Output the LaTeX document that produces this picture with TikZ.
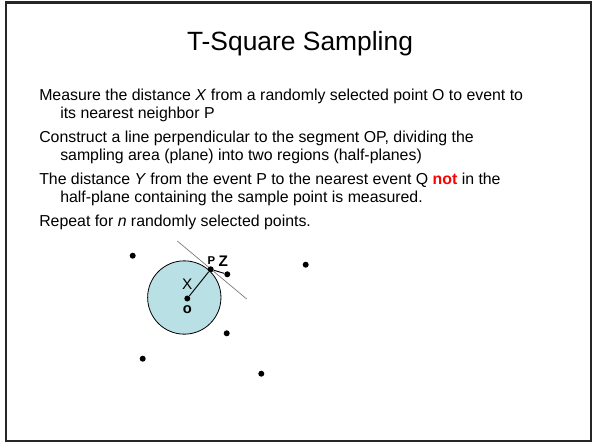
\documentclass[tikz,border=0pt]{standalone}
\usepackage{fontspec}
\setmainfont{Liberation Sans}
\definecolor{circfill}{RGB}{185,224,228}
\definecolor{tanline}{RGB}{120,120,120}
\begin{document}
\begin{tikzpicture}[x=0.75pt,y=-0.75pt,
  body/.style={anchor=base west,inner sep=0pt,font=\fontsize{11.9pt}{14pt}\selectfont},
  ev/.style={circle,fill=black,inner sep=0pt,minimum size=4.5pt},
  lab/.style={inner sep=0pt,font=\fontsize{11.5pt}{13pt}\selectfont}]
\useasboundingbox (0,0) rectangle (594,444);
\fill[white] (0,0) rectangle (594,444);
\draw[line width=1.6pt,black!85] (6,2.5) rectangle (591,441);
\node[inner sep=0pt,anchor=base,font=\fontsize{19.8pt}{22pt}\selectfont] (title) at (300,50) {T-Square Sampling};
\node[body] (l1) at (39,100.5) {Measure the distance \textit{X} from a randomly selected point O to event to};
\node[body] (l2) at (60,118.5) {its nearest neighbor P};
\node[body] (l3) at (39,142.5) {Construct a line perpendicular to the segment OP, dividing the};
\node[body] (l4) at (60,160.5) {sampling area (plane) into two regions (half-planes)};
\node[body] (l5) at (39,184) {The distance \textit{Y} from the event P to the nearest event Q \textcolor{red}{\textbf{not}} in the};
\node[body] (l6) at (60,202) {half-plane containing the sample point is measured.};
\node[body] (l7) at (39,226.5) {Repeat for \textit{n} randomly selected points.};
% circle
\node[circle,draw=black,fill=circfill,line width=0.6pt,minimum size=55pt,inner sep=0pt] (circ) at (184.3,297.5) {};
\coordinate (t1) at (177.3,241);
\coordinate (t2) at (246.7,299);
\draw[tanline,line width=0.5pt] (t1) -- (t2);
\node[ev] (O) at (187.3,298.5) {};
\node[ev] (P) at (210.7,269.3) {};
\node[ev] (Z) at (227.3,274.3) {};
\draw[line width=0.7pt] (O) -- (P);
\draw[line width=0.7pt] (P) -- (Z);
\node[lab] (Xl) at (187.3,284.3) {X};
\node[lab,font=\fontsize{11pt}{13pt}\selectfont\bfseries] (ol) at (187.3,309.5) {o};
\node[inner sep=0pt,font=\fontsize{8.5pt}{10pt}\selectfont\bfseries] (Pl) at (211.5,260.5) {P};
\node[lab,font=\fontsize{11.5pt}{13pt}\selectfont\bfseries] (Zl) at (223.3,261.5) {Z};
% other events
\node[ev] (e1) at (132.7,255.7) {};
\node[ev] (e2) at (305.7,264.7) {};
\node[ev] (e3) at (226.7,333.3) {};
\node[ev] (e4) at (142.7,358.7) {};
\node[ev] (e5) at (261.3,373.7) {};
\end{tikzpicture}
\end{document}
